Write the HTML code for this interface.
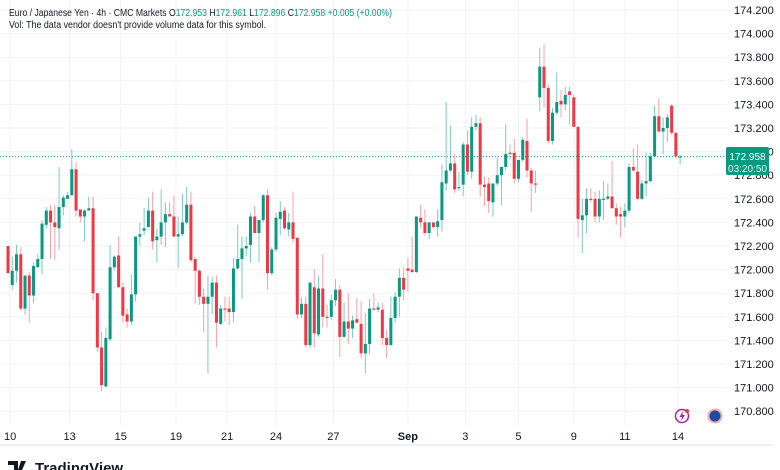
<!DOCTYPE html>
<html><head><meta charset="utf-8"><style>
body{margin:0;background:#fff;width:780px;height:470px;overflow:hidden;font-family:"Liberation Sans",sans-serif}
svg{display:block}
</style></head><body>
<svg id="chart" width="780" height="470" viewBox="0 0 780 470" xmlns="http://www.w3.org/2000/svg" font-family="Liberation Sans, sans-serif">
<rect width="780" height="470" fill="#fff"/>
<g id="grid"></g>
<g id="candles"></g>
<line x1="0" y1="156.6" x2="727" y2="156.6" stroke="#089981" stroke-width="1" stroke-dasharray="1,2"/>
<g id="yaxis"></g>
<g id="xaxis"></g>
<line x1="0" y1="445" x2="773" y2="445" stroke="#e0e3eb"/>
<g>
<rect x="726" y="147" width="43" height="28" rx="2" fill="#089981"/>
<text x="747.5" y="160" fill="#fff" font-size="10" text-anchor="middle">172.958</text>
<text x="747.5" y="172" fill="#e6f4f1" font-size="10" text-anchor="middle">03:20:50</text>
</g>
<text x="9" y="16" font-size="10" fill="#131722" textLength="383" lengthAdjust="spacingAndGlyphs">Euro / Japanese Yen · 4h · CMC Markets  O<tspan fill="#089981">172.953</tspan>  H<tspan fill="#089981">172.961</tspan>  L<tspan fill="#089981">172.896</tspan>  C<tspan fill="#089981">172.958</tspan>  <tspan fill="#089981">+0.005 (+0.00%)</tspan></text>
<text x="9" y="28" font-size="10" fill="#131722" textLength="257" lengthAdjust="spacingAndGlyphs">Vol: The data vendor doesn't provide volume data for this symbol.</text>
<g><circle cx="682" cy="416" r="6.5" fill="none" stroke="#9c27b0" stroke-width="1.5"/><path d="M683 411 L679.5 417 L682 417 L681 421 L685 415 L682.5 415 Z" fill="#9c27b0"/><circle cx="687" cy="411" r="2" fill="#f23645"/></g>
<g><circle cx="715" cy="416" r="7.5" fill="#f7a8b0"/><circle cx="715" cy="416" r="5.5" fill="#1c4da1"/></g>
<g><path d="M8 461 h10 v9 h-4 v-5 h-6 z" fill="#131722"/><path d="M21 461 l5 0 -4 9 -4 0 z" fill="#131722"/><text x="35" y="473" font-size="15" font-weight="bold" fill="#131722">TradingView</text></g>
</svg>
<script>
const opens=[172.20,171.87,171.99,172.13,171.67,171.95,171.78,172.02,172.09,172.38,172.50,172.40,172.35,172.53,172.60,172.63,172.85,172.51,172.45,172.50,172.52,171.80,171.34,171.01,171.41,172.02,172.12,171.85,171.62,171.56,171.79,172.28,172.33,172.36,172.50,172.25,172.28,172.40,172.47,172.45,172.28,172.30,172.40,172.55,172.09,171.99,171.77,171.71,171.77,171.89,171.54,171.67,171.67,171.64,172.01,172.09,172.18,172.21,172.45,172.31,172.42,172.63,171.97,172.17,172.43,172.50,172.34,172.40,172.27,171.62,171.71,171.36,171.85,171.45,171.84,171.60,171.60,171.74,171.83,171.43,171.56,171.50,171.58,171.54,171.29,171.37,171.67,171.66,171.66,171.42,171.36,171.59,171.77,171.93,172.01,172.00,171.98,172.44,172.40,172.31,172.40,172.36,172.42,172.73,172.84,172.90,172.69,172.72,173.06,172.83,173.21,173.24,172.72,172.73,172.57,172.73,172.80,172.87,172.99,172.99,172.77,172.93,173.09,172.84,172.73,173.46,173.72,173.54,173.09,173.33,173.43,173.40,173.51,173.46,173.21,172.42,172.46,172.60,172.60,172.45,172.59,172.60,172.62,172.52,172.47,172.45,172.50,172.87,172.83,172.60,172.73,172.75,172.96,173.30,173.17,173.20,173.39,173.16,172.956];
const highs=[172.20,172.11,172.21,172.19,171.95,171.98,172.06,172.13,172.42,172.53,172.55,172.55,172.87,172.63,172.66,173.02,172.91,172.51,172.51,172.62,172.62,171.80,171.47,171.51,172.21,172.12,172.28,171.89,171.67,171.96,172.28,172.40,172.52,172.61,172.66,172.35,172.68,172.57,172.57,172.63,172.45,172.64,172.70,172.66,172.11,172.00,171.84,171.95,171.94,171.95,171.70,171.77,171.77,172.10,172.38,172.28,172.28,172.48,172.54,172.34,172.64,172.68,172.19,172.48,172.58,172.53,172.48,172.66,172.27,171.76,171.77,171.89,172.00,171.95,172.13,171.70,171.79,171.92,171.87,171.72,171.80,171.61,171.76,171.73,171.63,171.75,171.80,171.72,171.72,171.49,171.77,171.81,172.01,172.02,172.10,172.28,172.45,172.55,172.51,172.40,172.40,172.51,172.89,173.42,173.22,172.98,172.83,173.08,173.18,173.29,173.31,173.29,172.79,172.78,172.73,172.95,172.87,173.23,173.06,173.11,172.93,173.12,173.28,172.86,172.84,173.88,173.91,173.57,173.37,173.67,173.52,173.55,173.55,173.48,173.21,172.60,172.69,172.69,172.66,172.67,172.75,172.73,172.92,172.56,172.53,172.56,172.90,173.03,173.06,172.76,172.99,172.99,173.39,173.45,173.29,173.32,173.40,173.16,172.97];
const lows=[171.97,171.83,171.89,171.65,171.62,171.55,171.72,172.02,171.96,172.35,172.09,172.08,172.17,172.46,172.60,172.63,172.45,172.40,172.24,172.50,171.74,171.30,170.97,171.00,171.39,172.00,171.85,171.55,171.51,171.53,171.73,172.20,172.29,172.36,172.17,172.06,172.21,172.19,172.45,172.28,172.01,172.28,172.38,172.06,171.71,171.70,171.47,171.12,171.62,171.34,171.53,171.56,171.53,171.55,172.00,171.75,172.11,172.06,172.31,172.06,172.40,171.83,171.95,172.15,172.29,172.34,172.28,172.23,171.58,171.59,171.34,171.34,171.34,171.43,171.51,171.51,171.57,171.69,171.26,171.42,171.37,171.42,171.55,171.25,171.12,171.28,171.66,171.64,171.36,171.25,171.36,171.55,171.60,171.74,171.81,171.97,171.97,172.35,172.29,172.26,172.35,172.28,172.32,172.67,172.83,172.65,172.67,172.62,172.80,172.77,173.18,172.62,172.54,172.48,172.45,172.71,172.55,172.84,172.94,172.73,172.74,172.91,172.78,172.49,172.65,173.34,173.37,173.07,173.06,173.31,173.29,173.35,173.23,173.21,172.27,172.14,172.31,172.57,172.40,172.40,172.42,172.59,172.52,172.38,172.27,172.36,172.48,172.83,172.59,172.59,172.62,172.74,172.95,173.16,172.98,173.08,173.14,172.94,172.89];
const closes=[171.97,171.99,172.13,171.67,171.95,171.78,172.03,172.09,172.39,172.50,172.40,172.36,172.53,172.61,172.63,172.85,172.50,172.45,172.50,172.52,171.80,171.34,171.02,171.42,172.02,172.11,171.85,171.61,171.56,171.79,172.28,172.30,172.35,172.50,172.24,172.28,172.40,172.47,172.45,172.28,172.30,172.40,172.55,172.08,171.99,171.77,171.71,171.77,171.89,171.55,171.67,171.66,171.64,172.01,172.09,172.18,172.20,172.45,172.31,172.42,172.63,171.97,172.17,172.44,172.49,172.35,172.40,172.26,171.62,171.71,171.36,171.89,171.46,171.84,171.60,171.59,171.74,171.83,171.43,171.56,171.50,171.57,171.55,171.29,171.37,171.67,171.66,171.68,171.42,171.36,171.59,171.77,171.93,171.83,171.99,171.98,172.45,172.40,172.31,172.40,172.36,172.41,172.74,172.84,172.90,172.68,172.70,173.06,172.83,173.21,173.24,172.72,172.70,172.58,172.73,172.80,172.87,172.98,172.98,172.77,172.93,173.10,172.84,172.73,172.72,173.72,173.54,173.09,173.33,173.42,173.40,173.48,173.48,173.21,172.43,172.46,172.60,172.59,172.45,172.60,172.60,172.62,172.52,172.45,172.45,172.50,172.87,172.84,172.60,172.73,172.75,172.96,173.30,173.17,173.20,173.29,173.16,172.96,172.958];
const yTicks=[174.2,174.0,173.8,173.6,173.4,173.2,173.0,172.8,172.6,172.4,172.2,172.0,171.8,171.6,171.4,171.2,171.0,170.8];
const xLabels=["10","13","15","19","21","24","27","Sep","3","5","9","11","14"];
const xLabelIdx=[0.5,14.5,26.5,39.5,51.5,63,76.5,94,107.5,120,133,145,157.5];

const NS="http://www.w3.org/2000/svg";
const yOf=p=>10+(174.2-p)*118;
const xOf=i=>8+i*4.254;
function mk(tag,attrs,parent){const e=document.createElementNS(NS,tag);for(const k in attrs)e.setAttribute(k,attrs[k]);parent.appendChild(e);return e;}
const grid=document.getElementById('grid'),yax=document.getElementById('yaxis'),xax=document.getElementById('xaxis'),cg=document.getElementById('candles');
yTicks.forEach(t=>{
  const y=yOf(t);
  const gl=mk('line',{x1:0,x2:727,y1:y,y2:y,stroke:'#f2f3f6','stroke-width':1},grid);
  
  
  const tx=mk('text',{x:734,y:y+4,'font-size':11,fill:'#131722'},yax);
  tx.textContent=t.toFixed(3);
  
  
});
xLabels.forEach((l,k)=>{
  const x=xOf(xLabelIdx[k]);
  const gl=mk('line',{x1:x,x2:x,y1:0,y2:425,stroke:'#f2f3f6','stroke-width':1},grid);
  
  
  const tx=mk('text',{x:x,y:440,'font-size':11,fill:'#131722','text-anchor':'middle','font-weight':l==='Sep'?'bold':'normal'},xax);
  tx.textContent=l;
  
  
});
opens.forEach((o,i)=>{
  const c=closes[i],up=c>=o,col=up?'#089981':'#f23645',x=xOf(i);
  const w=mk('line',{x1:x,x2:x,y1:yOf(highs[i]),y2:yOf(lows[i]),stroke:up?'#7fcbbd':'#f7a1a8','stroke-width':1},cg);
  
  
  const top=yOf(Math.max(o,c)),h=Math.max(1,Math.abs(yOf(o)-yOf(c)));
  const b=mk('rect',{x:x-1.5,y:top,width:3,height:h,fill:col},cg);
  
  
});
</script>
</body></html>
